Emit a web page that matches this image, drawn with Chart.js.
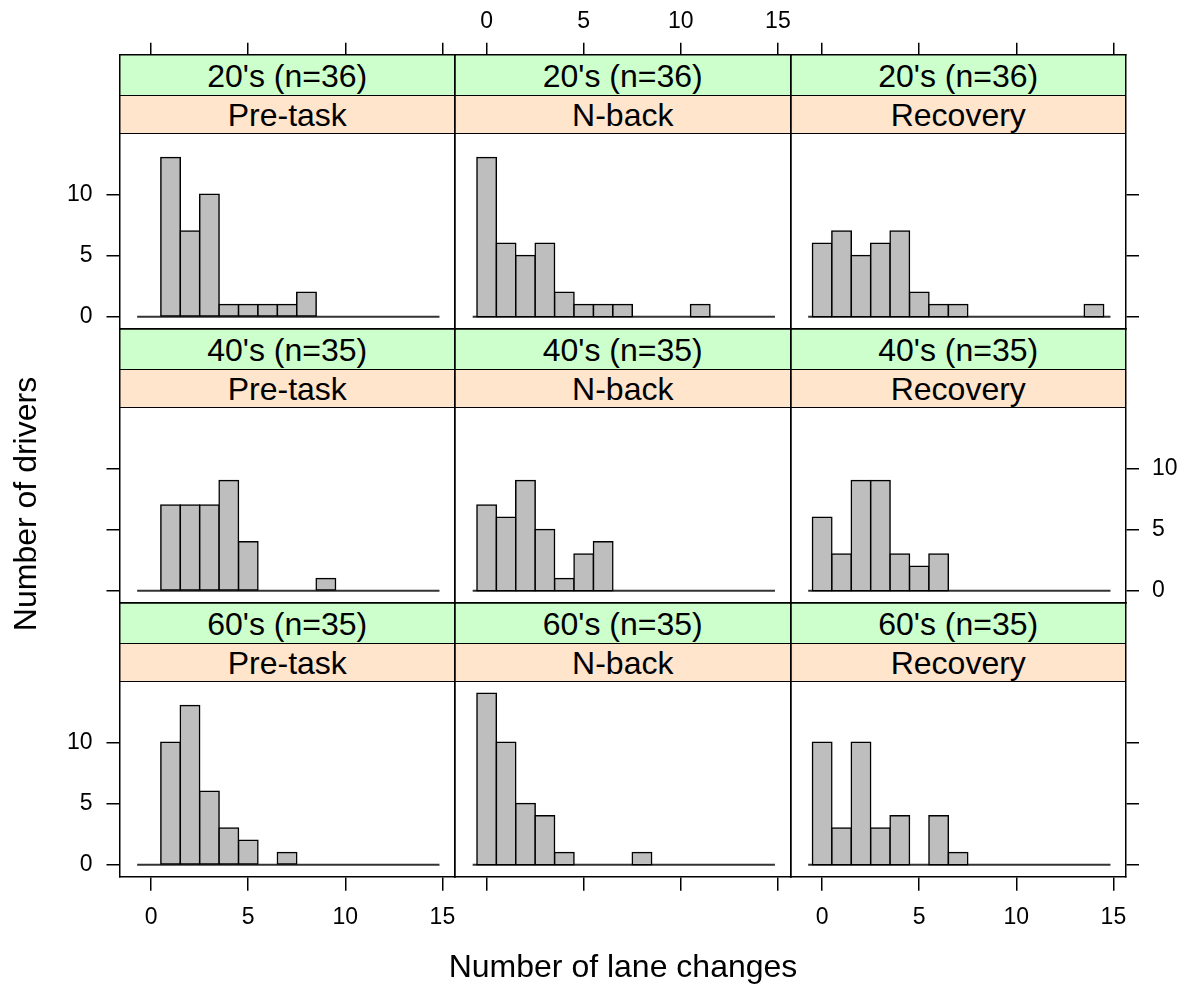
<!DOCTYPE html>
<html>
<head>
<meta charset="utf-8">
<script src="https://cdn.jsdelivr.net/npm/chart.js@4/dist/chart.umd.min.js"></script>
<style>
html,body{margin:0;padding:0;background:#fff;}
#wrap{position:relative;width:1185px;height:987px;overflow:hidden;font-family:"Liberation Sans",Arial,sans-serif;color:#000;}
#wrap canvas{position:absolute;left:0;top:0;}
.strip{position:absolute;box-sizing:border-box;display:flex;align-items:center;justify-content:center;font-size:32px;padding-top:2px;white-space:nowrap;}
.green{background:#CCFFCC;}
.orange{background:#FFE5CC;border-top:1.5px solid #000;border-bottom:1.5px solid #000;}
.title{position:absolute;font-size:32px;line-height:32px;text-align:center;white-space:nowrap;}
</style>
</head>
<body>
<div id="wrap"></div>
<script>
// ---------------- data ----------------
const laneChanges = [0,1,2,3,4,5,6,7,8,9,10,11,12,13,14];
const xTickValues = [0,5,10,15];
const yTickValues = [0,5,10];
const ageStrips = ["20's (n=36)", "40's (n=35)", "60's (n=35)"];
const phaseStrips = ["Pre-task", "N-back", "Recovery"];

const age20PreTask  = [0,13,7,10,1,1,1,1,2,0,0,0,0,0,0];
const age20NBack    = [13,6,5,6,2,1,1,1,0,0,0,1,0,0,0];
const age20Recovery = [6,7,5,6,7,2,1,1,0,0,0,0,0,0,1];
const age40PreTask  = [0,7,7,7,9,4,0,0,0,1,0,0,0,0,0];
const age40NBack    = [7,6,9,5,1,3,4,0,0,0,0,0,0,0,0];
const age40Recovery = [6,3,9,9,3,2,3,0,0,0,0,0,0,0,0];
const age60PreTask  = [0,10,13,6,3,2,0,1,0,0,0,0,0,0,0];
const age60NBack    = [14,10,5,4,1,0,0,0,1,0,0,0,0,0,0];
const age60Recovery = [10,3,10,3,4,0,4,1,0,0,0,0,0,0,0];

const baselineSpan = [-0.72, 14.85];
const xLimits = [-1.63, 15.65];
const yLimits = [-0.98, 14.98];

const countsGrid = [
  [age20PreTask, age20NBack, age20Recovery],
  [age40PreTask, age40NBack, age40Recovery],
  [age60PreTask, age60NBack, age60Recovery]
];

// ---------------- layout ----------------
const W = 1185, H = 987;
const colLeft = [119.5, 455, 790.5], panelW = 335.5;
const rowTop = [54.8, 328.8, 602.8], rowH = 274, stripG = 40.5, stripO = 38;
const AXH = 50, AXW = 55;

Chart.defaults.font.family = "'Liberation Sans', Arial, sans-serif";
Chart.defaults.color = '#000';

const wrap = document.getElementById('wrap');

// strips (behind the transparent canvases)
for (let r = 0; r < 3; r++) {
  for (let c = 0; c < 3; c++) {
    const g = document.createElement('div');
    g.className = 'strip green';
    g.style.left = colLeft[c] + 'px'; g.style.top = rowTop[r] + 'px';
    g.style.width = panelW + 'px'; g.style.height = stripG + 'px';
    g.textContent = ageStrips[r];
    wrap.appendChild(g);
    const o = document.createElement('div');
    o.className = 'strip orange';
    o.style.left = colLeft[c] + 'px'; o.style.top = (rowTop[r] + stripG - 0.75) + 'px';
    o.style.width = panelW + 'px'; o.style.height = (stripO + 1.5) + 'px';
    o.textContent = phaseStrips[c];
    wrap.appendChild(o);
  }
}

function gridOpts(show, len) {
  return {display: show, offset: false, drawOnChartArea: false, drawTicks: true, tickLength: len,
          color: '#000', tickColor: '#000', lineWidth: 1.5, tickWidth: 1.5};
}
const borderOpts = {display: true, color: '#000', width: 1.5};
const tickFont = {size: 23};
const setXTicks = s => { s.ticks = xTickValues.map(v => ({value: v})); };
const setYTicks = s => { s.ticks = yTickValues.map(v => ({value: v})); };

for (let r = 0; r < 3; r++) {
  for (let c = 0; c < 3; c++) {
    const counts = countsGrid[r][c];
    const pL = colLeft[c], pR = pL + panelW, pT = rowTop[r], pB = pT + rowH;
    const panelH = rowH - stripG - stripO;
    const unitsPerPx = (yLimits[1] - yLimits[0]) / panelH;
    const yMaxExt = yLimits[1] + (stripG + stripO) * unitsPerPx;

    const cv = document.createElement('canvas');
    cv.width = W; cv.height = H;
    wrap.appendChild(cv);

    new Chart(cv, {
      type: 'bar',
      data: {
        datasets: [
          {
            type: 'line',
            data: baselineSpan.map(x => ({x: x, y: 0})),
            borderColor: '#333', borderWidth: 2, pointRadius: 0, fill: false, order: 1
          },
          {
            type: 'bar',
            data: laneChanges.map((x, i) => ({x: x, y: counts[i]})),
            backgroundColor: '#BEBEBE', borderColor: '#000', borderWidth: 1.5,
            borderSkipped: false, inflateAmount: 0.75,
            barPercentage: 1, categoryPercentage: 1, order: 0
          }
        ]
      },
      options: {
        responsive: false, animation: false, devicePixelRatio: 1,
        layout: {padding: {left: pL - AXW, right: W - pR - AXW, top: pT - AXH, bottom: H - pB - AXH}},
        plugins: {legend: {display: false}, tooltip: {enabled: false}},
        scales: {
          x: {
            type: 'linear', position: 'bottom', offset: false, min: xLimits[0], max: xLimits[1],
            afterBuildTicks: setXTicks, afterFit: s => { s.height = AXH; },
            grid: gridOpts(r === 2, 14), border: borderOpts,
            ticks: {display: r === 2 && c !== 1, font: tickFont, padding: 13, maxRotation: 0, autoSkip: false, color: '#000'}
          },
          x2: {
            type: 'linear', axis: 'x', position: 'top', offset: false, min: xLimits[0], max: xLimits[1],
            afterBuildTicks: setXTicks, afterFit: s => { s.height = AXH; },
            grid: gridOpts(r === 0, 12), border: borderOpts,
            ticks: {display: r === 0 && c === 1, font: tickFont, padding: 7, maxRotation: 0, autoSkip: false, color: '#000'}
          },
          y: {
            type: 'linear', position: 'left', offset: false, min: yLimits[0], max: yMaxExt,
            afterBuildTicks: setYTicks, afterFit: s => { s.width = AXW; },
            grid: gridOpts(c === 0, 13), border: borderOpts,
            ticks: {display: c === 0 && r !== 1, font: tickFont, padding: 14, autoSkip: false, color: '#000'}
          },
          y2: {
            type: 'linear', axis: 'y', position: 'right', offset: false, min: yLimits[0], max: yMaxExt,
            afterBuildTicks: setYTicks, afterFit: s => { s.width = AXW; },
            grid: gridOpts(c === 2, 13), border: borderOpts,
            ticks: {display: c === 2 && r === 1, font: tickFont, padding: 13, autoSkip: false, color: '#000'}
          }
        }
      }
    });
  }
}

// axis titles
const xt = document.createElement('div');
xt.className = 'title';
xt.style.left = (623 - 300) + 'px'; xt.style.width = '600px';
xt.style.top = '949.6px'; xt.style.height = '32px';
xt.textContent = 'Number of lane changes';
wrap.appendChild(xt);

const yt = document.createElement('div');
yt.className = 'title';
yt.style.left = (25 - 200) + 'px'; yt.style.width = '400px';
yt.style.top = (504 - 16) + 'px'; yt.style.height = '32px';
yt.style.transform = 'rotate(-90deg)';
yt.textContent = 'Number of drivers';
wrap.appendChild(yt);
</script>
</body>
</html>
